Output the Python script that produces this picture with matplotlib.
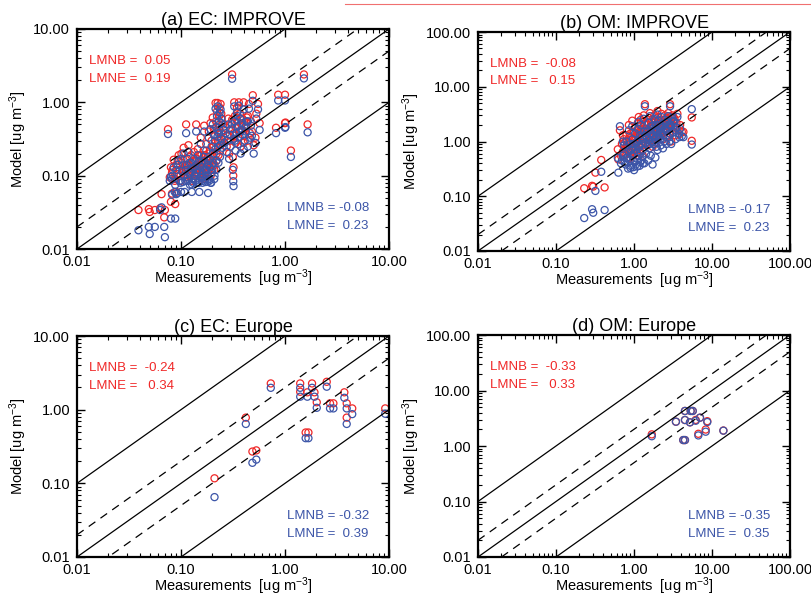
import numpy as np
import matplotlib
matplotlib.use("Agg")
import matplotlib.pyplot as plt
from matplotlib.lines import Line2D
from matplotlib.ticker import FixedLocator, FixedFormatter, LogLocator, NullFormatter

plt.rcParams['font.family'] = ['Liberation Sans', 'DejaVu Sans']
plt.rcParams['mathtext.fontset'] = 'custom'
plt.rcParams['mathtext.rm'] = 'Liberation Sans'
plt.rcParams['mathtext.it'] = 'Liberation Sans:italic'

RED = '#f02828'
BLUE = '#3c55a8'

# ---------------- (a) EC: IMPROVE  (measurement, model red, model blue)
a_x = [0.039, 0.049, 0.050, 0.056, 0.063, 0.065, 0.069, 0.070, 0.080, 0.088, 0.082, 0.090,
       0.075, 0.078, 0.080, 0.082, 0.085, 0.087, 0.090, 0.092, 0.095, 0.097, 0.100, 0.102,
       0.104, 0.106, 0.108, 0.110, 0.112, 0.114, 0.116, 0.118, 0.120, 0.122, 0.125, 0.127,
       0.129, 0.131, 0.133, 0.135, 0.138, 0.140, 0.142, 0.145, 0.147, 0.150, 0.152, 0.155,
       0.157, 0.160, 0.162, 0.165, 0.167, 0.170, 0.172, 0.175, 0.177, 0.180, 0.182, 0.185,
       0.187, 0.190, 0.192, 0.195, 0.197, 0.200,
       0.202, 0.205, 0.207, 0.210, 0.212, 0.215, 0.217, 0.220, 0.222, 0.225, 0.227, 0.230,
       0.232, 0.235, 0.237, 0.240, 0.243, 0.245, 0.250, 0.255, 0.260,
       0.270, 0.275, 0.280, 0.285, 0.290, 0.295, 0.300, 0.305, 0.310, 0.315, 0.318, 0.320,
       0.322, 0.325, 0.330, 0.335, 0.340, 0.345, 0.350, 0.355, 0.360, 0.365, 0.370, 0.375,
       0.380, 0.390, 0.400, 0.410, 0.420, 0.430, 0.440, 0.450, 0.470, 0.480, 0.490, 0.500,
       0.520, 0.550, 0.570,
       0.82, 0.86, 1.00, 1.00, 1.01, 1.14, 1.52, 1.65,
       0.083, 0.088, 0.093, 0.099, 0.101, 0.107, 0.111, 0.117, 0.121, 0.124, 0.128, 0.132,
       0.137, 0.141, 0.144, 0.149, 0.153, 0.158, 0.161, 0.164, 0.168, 0.171, 0.176, 0.179,
       0.183, 0.186, 0.189, 0.193, 0.198, 0.203, 0.209, 0.214, 0.219, 0.224, 0.229, 0.234,
       0.239, 0.244, 0.33, 0.36, 0.39, 0.42, 0.44, 0.46, 0.31, 0.35, 0.40, 0.53]
a_red = [0.034, 0.035, 0.032, 0.034, 0.036, 0.056, 0.027, 0.034, 0.044, 0.041, 0.057, 0.060,
         0.43, 0.095, 0.13, 0.11, 0.165, 0.085, 0.14, 0.105, 0.19, 0.12, 0.085, 0.15,
         0.11, 0.24, 0.13, 0.095, 0.50, 0.17, 0.12, 0.26, 0.14, 0.10, 0.19, 0.115,
         0.155, 0.09, 0.21, 0.13, 0.11, 0.50, 0.17, 0.23, 0.12, 0.105, 0.14, 0.33,
         0.19, 0.10, 0.125, 0.22, 0.48, 0.15, 0.095, 0.27, 0.13, 0.18, 0.110, 0.40,
         0.14, 0.22, 0.52, 0.12, 0.30, 0.16,
         0.62, 0.25, 0.43, 0.14, 0.35, 0.98, 0.55, 0.20, 0.75, 0.98, 0.30, 0.45,
         0.65, 0.85, 0.22, 0.95, 0.38, 0.60, 0.28, 0.50, 0.33,
         0.45, 0.25, 0.35, 0.60, 0.20, 0.42, 0.30, 0.52, 2.40, 0.18, 0.10, 0.13,
         0.38, 1.00, 0.65, 0.28, 0.45, 0.85, 0.55, 0.33, 1.00, 0.40, 0.70, 0.25,
         0.50, 0.60, 1.00, 0.35, 0.45, 0.62, 0.30, 0.95, 0.55, 0.40, 1.25, 0.26,
         0.33, 0.95, 0.52,
         0.45, 1.27, 1.27, 0.52, 0.53, 0.22, 2.40, 0.50,
         0.12, 0.09, 0.16, 0.10, 0.20, 0.12, 0.14, 0.10, 0.18, 0.13, 0.085, 0.16,
         0.12, 0.14, 0.10, 0.19, 0.12, 0.16, 0.09, 0.13, 0.19, 0.11, 0.15, 0.10,
         0.20, 0.12, 0.16, 0.10, 0.14, 0.18, 0.12, 0.28, 0.16, 0.40, 0.19, 0.50,
         0.30, 0.70, 0.35, 0.48, 0.42, 0.55, 0.65, 0.38, 0.58, 0.75, 0.28, 0.70]
a_blue = [0.018, 0.020, 0.016, 0.020, 0.034, 0.037, 0.020, 0.0145, 0.026, 0.026, 0.055, 0.056,
          0.37, 0.085, 0.097, 0.090, 0.13, 0.060, 0.120, 0.058, 0.16, 0.085, 0.060, 0.115,
          0.082, 0.20, 0.060, 0.085, 0.38, 0.14, 0.095, 0.21, 0.11, 0.075, 0.15, 0.060,
          0.125, 0.080, 0.17, 0.10, 0.085, 0.40, 0.12, 0.19, 0.080, 0.060, 0.115, 0.27,
          0.15, 0.085, 0.095, 0.18, 0.40, 0.12, 0.082, 0.22, 0.10, 0.14, 0.058, 0.33,
          0.085, 0.17, 0.43, 0.080, 0.25, 0.12,
          0.50, 0.20, 0.36, 0.10, 0.30, 0.82, 0.46, 0.16, 0.65, 0.88, 0.25, 0.38,
          0.55, 0.72, 0.18, 0.80, 0.32, 0.52, 0.24, 0.42, 0.28,
          0.38, 0.21, 0.30, 0.50, 0.17, 0.36, 0.25, 0.44, 2.10, 0.12, 0.084, 0.072,
          0.32, 0.88, 0.55, 0.22, 0.38, 0.72, 0.47, 0.27, 0.90, 0.34, 0.60, 0.20,
          0.42, 0.52, 0.80, 0.30, 0.40, 0.55, 0.25, 0.82, 0.48, 0.35, 1.05, 0.20,
          0.28, 0.80, 0.42,
          0.38, 1.06, 1.06, 0.45, 0.46, 0.18, 2.12, 0.39,
          0.10, 0.075, 0.14, 0.08, 0.17, 0.10, 0.12, 0.085, 0.15, 0.11, 0.075, 0.13,
          0.09, 0.11, 0.08, 0.16, 0.095, 0.13, 0.08, 0.105, 0.16, 0.09, 0.12, 0.083,
          0.16, 0.09, 0.13, 0.08, 0.11, 0.15, 0.09, 0.23, 0.12, 0.34, 0.15, 0.42,
          0.26, 0.60, 0.30, 0.40, 0.36, 0.47, 0.55, 0.33, 0.50, 0.65, 0.23, 0.60]

# ---------------- (b) OM: IMPROVE
b_x = [0.23, 0.29, 0.30, 0.32, 0.38, 0.42, 0.63,
       0.62, 0.66, 0.68, 0.70, 0.72, 0.74, 0.76, 0.78, 0.80,
       0.82, 0.84, 0.86, 0.88, 0.90, 0.92, 0.94, 0.96, 0.98,
       1.00, 1.02, 1.04, 1.06, 1.08, 1.10, 1.12, 1.14, 1.16, 1.18, 1.20, 1.22, 1.24, 1.26, 1.28,
       1.30, 1.33, 1.36, 1.38, 1.40, 1.43, 1.46, 1.49, 1.52, 1.55, 1.58, 1.61, 1.64, 1.67,
       1.70, 1.73, 1.76, 1.79, 1.82, 1.85, 1.88, 1.91, 1.94, 1.97, 2.00, 2.05, 2.10, 2.15, 2.20,
       2.25, 2.30, 2.35, 2.40, 2.45, 2.50, 2.55, 2.60, 2.65, 2.70, 2.75, 2.80, 2.85, 2.90, 2.95,
       3.00, 3.10, 3.20, 3.30, 3.40, 3.50, 3.60, 3.75, 3.80, 3.90, 4.10, 4.30,
       5.50, 5.50,
       0.85, 0.90, 0.95, 1.00, 1.05, 1.10, 1.15, 1.20, 1.25, 1.30, 1.35, 1.40, 1.45, 1.50,
       1.55, 1.60, 1.65, 1.70, 1.75, 1.80, 1.85, 1.90, 1.95, 2.00, 2.05, 2.10, 2.15, 2.20,
       2.30, 2.40, 2.50, 2.60, 2.70, 2.80, 2.90, 3.00, 3.20, 3.40, 0.75, 0.80, 0.72, 0.90,
       1.00, 1.10, 1.20, 1.30, 0.95, 1.15, 1.60, 2.00]
b_red = [0.14, 0.155, 0.150, 0.27, 0.46, 0.145, 0.47,
         0.72, 1.60, 0.55, 0.90, 0.65, 1.10, 0.75, 0.60, 1.30,
         0.85, 0.70, 2.00, 0.95, 0.62, 1.20, 0.80, 1.50, 0.68,
         1.05, 0.75, 1.80, 0.90, 1.30, 0.70, 2.20, 1.00, 1.40, 0.80, 1.15, 2.50, 0.95, 1.60, 0.85,
         1.25, 3.00, 1.10, 4.80, 1.70, 0.95, 2.00, 1.35, 0.90, 2.70, 1.20, 1.80, 1.00, 2.30,
         1.45, 0.80, 2.00, 1.25, 3.00, 1.60, 0.95, 2.40, 1.40, 1.85, 1.10, 2.80, 1.60, 2.20, 1.30,
         3.20, 1.80, 1.10, 2.50, 1.50, 3.00, 2.00, 1.20, 2.70, 1.70, 3.30, 2.10, 1.40, 4.80, 2.40,
         1.00, 3.00, 1.90, 2.60, 1.30, 2.20, 3.20, 1.60, 1.35, 2.00, 1.50, 1.50,
         2.75, 1.03,
         1.00, 1.40, 1.10, 1.50, 1.20, 1.60, 1.30, 1.90, 1.40, 1.70, 2.10, 1.30, 1.60, 2.20,
         1.50, 1.30, 1.90, 2.50, 1.40, 1.90, 2.20, 1.60, 1.30, 2.00, 1.70, 2.50, 1.40, 1.90,
         2.30, 1.60, 2.00, 2.60, 1.90, 2.40, 1.70, 2.20, 2.80, 1.90, 0.95, 0.80, 1.30, 0.50,
         0.45, 0.55, 0.60, 0.55, 2.40, 2.80, 3.30, 3.60]
b_blue = [0.040, 0.058, 0.050, 0.125, 0.28, 0.056, 0.27,
          0.50, 1.90, 0.40, 0.45, 0.55, 0.85, 0.42, 0.38, 1.00,
          0.50, 0.32, 1.60, 0.45, 0.36, 0.70, 0.55, 1.10, 0.34,
          0.60, 0.42, 1.40, 0.38, 0.95, 0.48, 1.70, 0.55, 0.80, 0.36, 0.65, 2.00, 0.45, 1.20, 0.52,
          0.70, 2.60, 0.40, 4.40, 1.30, 0.60, 1.50, 0.85, 0.45, 2.20, 0.75, 1.40, 0.55, 1.90,
          1.00, 0.38, 1.60, 0.90, 2.60, 1.10, 0.51, 2.00, 0.80, 1.50, 0.70, 2.40, 1.20, 1.80, 0.85,
          2.80, 1.40, 0.75, 2.10, 1.00, 2.50, 1.60, 0.90, 2.30, 1.20, 2.90, 1.80, 1.00, 4.40, 2.00,
          0.90, 2.70, 1.50, 2.30, 1.10, 1.80, 2.80, 1.40, 1.20, 1.70, 1.25, 1.20,
          3.90, 0.88,
          0.65, 0.90, 0.75, 0.90, 0.70, 1.00, 0.85, 1.30, 0.90, 1.10, 1.50, 0.95, 1.20, 1.60,
          1.05, 0.90, 1.40, 1.90, 1.00, 1.30, 1.70, 1.20, 0.95, 1.60, 1.30, 2.00, 1.10, 1.50,
          1.90, 1.30, 1.70, 2.20, 1.60, 2.00, 1.40, 1.90, 2.40, 1.60, 0.60, 0.50, 1.00, 0.33,
          0.30, 0.35, 0.42, 0.40, 1.90, 2.30, 2.90, 3.10]

# ---------------- (c) EC: Europe
c_x = [0.21, 0.42, 0.486, 0.53, 0.73, 1.40, 1.40, 1.64, 1.82, 1.92, 2.02, 2.52,
       1.58, 1.68, 2.71, 2.92, 3.72, 3.92, 3.92, 4.43, 9.2]
c_red = [0.117, 0.78, 0.27, 0.28, 2.27, 2.27, 1.75, 1.72, 2.27, 1.72, 1.26, 2.39,
         0.49, 0.49, 1.22, 1.22, 1.72, 1.22, 0.78, 1.04, 1.04]
c_blue = [0.065, 0.64, 0.19, 0.21, 1.98, 1.98, 1.50, 1.50, 1.98, 1.50, 1.06, 2.05,
          0.41, 0.41, 1.04, 1.04, 1.45, 1.04, 0.64, 0.87, 0.88]

# ---------------- (d) OM: Europe
d_x = [1.69, 3.45, 4.28, 4.50, 4.50, 5.33, 5.66, 4.50, 5.22, 6.18, 7.02, 8.7, 6.68, 8.3, 14.0]
d_red = [1.62, 2.74, 1.28, 1.28, 4.28, 4.28, 4.28, 2.94, 2.67, 2.95, 3.24, 2.80, 1.66, 1.98, 1.90]
d_blue = [1.50, 2.74, 1.28, 1.28, 4.28, 4.28, 4.28, 2.94, 2.67, 2.85, 3.24, 2.70, 1.55, 1.81, 1.89]

panels = [
    dict(title='(a) EC: IMPROVE', x=a_x, r=a_red, b=a_blue, top=10.0,
         ticks=[0.01, 0.1, 1.0, 10.0], labels=['0.01', '0.10', '1.00', '10.00'],
         red_txt=('LMNB =  0.05', 'LMNE =  0.19'), blue_txt=('LMNB = -0.08', 'LMNE =  0.23'),
         pos=[77, 29, 389, 249]),
    dict(title='(b) OM: IMPROVE', x=b_x, r=b_red, b=b_blue, top=100.0,
         ticks=[0.01, 0.1, 1.0, 10.0, 100.0], labels=['0.01', '0.10', '1.00', '10.00', '100.00'],
         red_txt=('LMNB =  -0.08', 'LMNE =   0.15'), blue_txt=('LMNB = -0.17', 'LMNE =  0.23'),
         pos=[478, 32, 790, 251]),
    dict(title='(c) EC: Europe', x=c_x, r=c_red, b=c_blue, top=10.0,
         ticks=[0.01, 0.1, 1.0, 10.0], labels=['0.01', '0.10', '1.00', '10.00'],
         red_txt=('LMNB =  -0.24', 'LMNE =   0.34'), blue_txt=('LMNB = -0.32', 'LMNE =  0.39'),
         pos=[77, 336, 389, 557]),
    dict(title='(d) OM: Europe', x=d_x, r=d_red, b=d_blue, top=100.0,
         ticks=[0.01, 0.1, 1.0, 10.0, 100.0], labels=['0.01', '0.10', '1.00', '10.00', '100.00'],
         red_txt=('LMNB =  -0.33', 'LMNE =   0.33'), blue_txt=('LMNB = -0.35', 'LMNE =  0.35'),
         pos=[478, 335, 790, 557]),
]

W, H = 811, 598
fig = plt.figure(figsize=(W / 100, H / 100), dpi=100)

# thin red rule visible at the very top of the cropped page
fig.add_artist(Line2D([345 / W, 1.0], [1 - 4 / H, 1 - 4 / H], color='#f07070', lw=0.8))

for p in panels:
    l, t, r, btm = p['pos']
    ax = fig.add_axes([l / W, 1 - btm / H, (r - l) / W, (btm - t) / H])
    lo, hi = 0.01, p['top']
    ax.set_xscale('log')
    ax.set_yscale('log')
    ax.set_xlim(lo, hi)
    ax.set_ylim(lo, hi)
    xx = np.array([lo, hi])
    ax.plot(xx, xx, color='black', lw=0.9, zorder=3)
    ax.plot(xx, xx * 10, color='black', lw=0.9, zorder=3)
    ax.plot(xx, xx / 10, color='black', lw=0.9, zorder=3)
    ax.plot(xx, xx * 2, color='black', lw=0.9, ls=(0, (6.5, 5)), zorder=3)
    ax.plot(xx, xx / 2, color='black', lw=0.9, ls=(0, (6.5, 5)), zorder=3)
    ax.scatter(p['x'], p['r'], s=26, facecolors='none', edgecolors=RED, linewidths=0.9, zorder=2)
    ax.scatter(p['x'], p['b'], s=26, facecolors='none', edgecolors=BLUE, linewidths=0.9, zorder=2)
    for axis in (ax.xaxis, ax.yaxis):
        axis.set_major_locator(FixedLocator(p['ticks']))
        axis.set_major_formatter(FixedFormatter(p['labels']))
        axis.set_minor_locator(LogLocator(base=10, subs=np.arange(2, 10), numticks=20))
        axis.set_minor_formatter(NullFormatter())
    ax.tick_params(which='both', direction='in', top=True, right=True, labelsize=10.5)
    ax.tick_params(axis='x', pad=4)
    ax.tick_params(axis='y', pad=5)
    ax.tick_params(which='major', length=6, width=1)
    ax.tick_params(which='minor', length=3, width=0.8)
    for s in ax.spines.values():
        s.set_linewidth(1.6)
    ax.set_title(p['title'], fontsize=13, pad=3)
    ax.set_xlabel('Measurements  [ug m$^{-3}$]', fontsize=10.5, labelpad=-1)
    ax.set_ylabel('Model [ug m$^{-3}$]', fontsize=10.5, labelpad=3)
    ax.text(0.04, 0.855, p['red_txt'][0], color=RED, fontsize=9.5, transform=ax.transAxes, va='center')
    ax.text(0.04, 0.775, p['red_txt'][1], color=RED, fontsize=9.5, transform=ax.transAxes, va='center')
    ax.text(0.672, 0.185, p['blue_txt'][0], color=BLUE, fontsize=9.5, transform=ax.transAxes, va='center')
    ax.text(0.672, 0.105, p['blue_txt'][1], color=BLUE, fontsize=9.5, transform=ax.transAxes, va='center')

fig.savefig('out.png', dpi=100)
